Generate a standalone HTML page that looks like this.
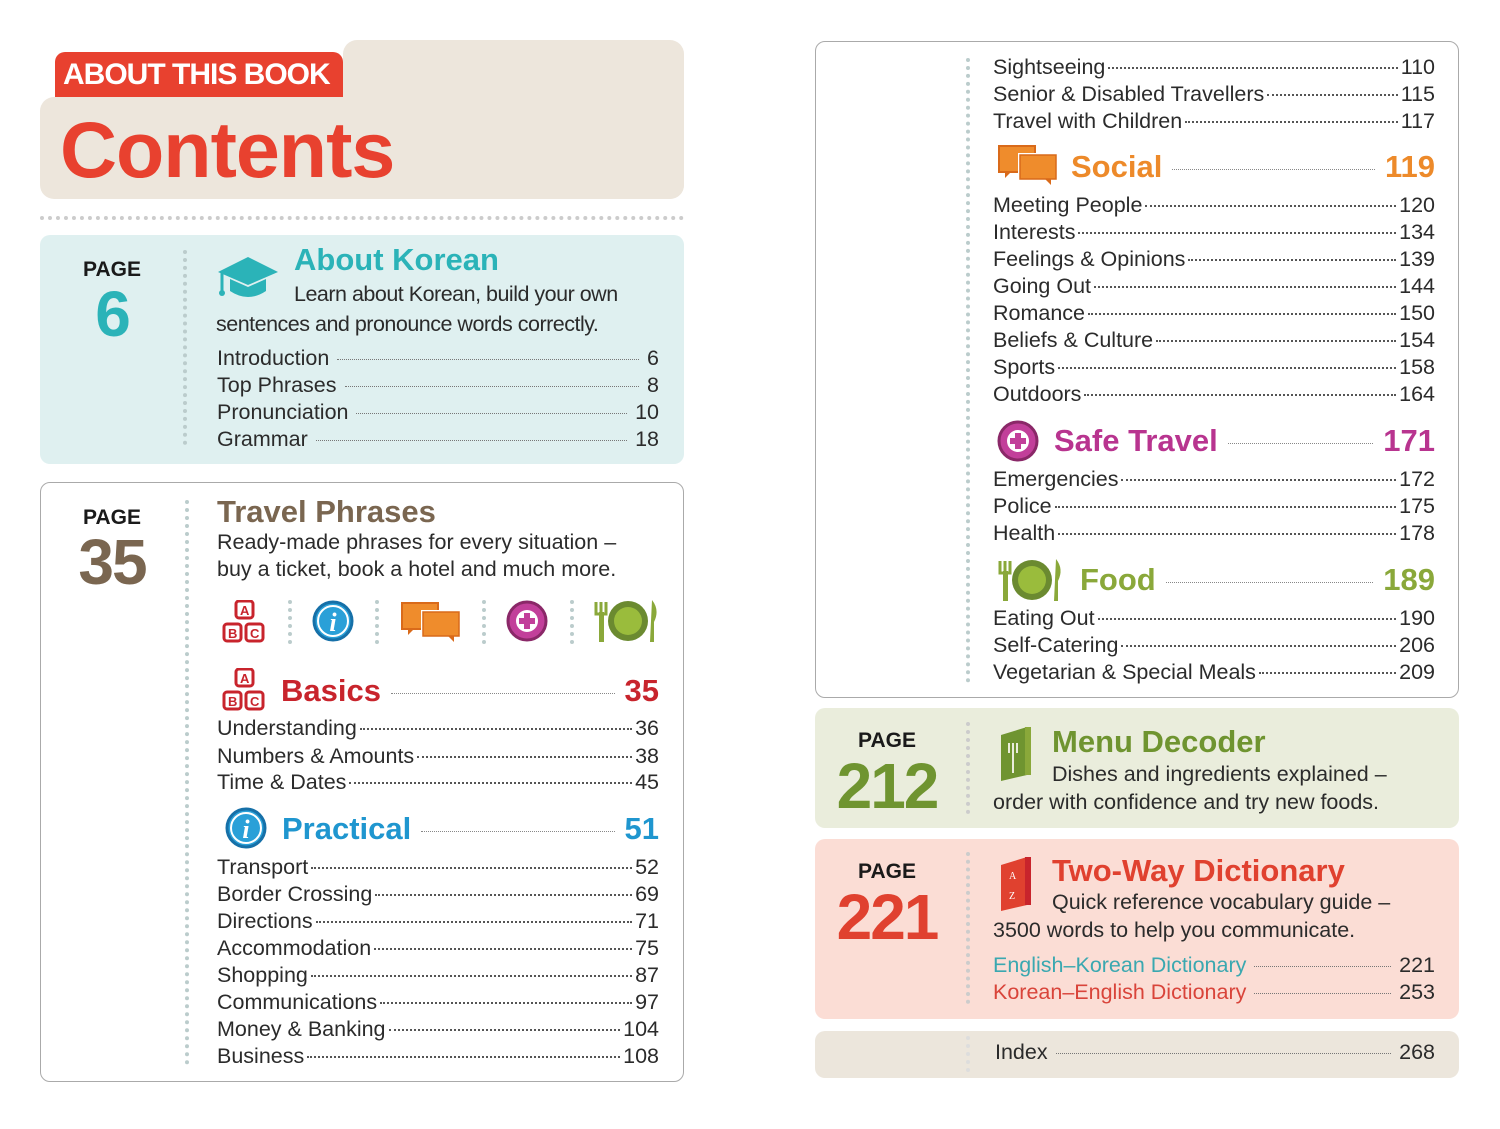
<!DOCTYPE html>
<html><head><meta charset="utf-8"><style>
*{margin:0;padding:0;box-sizing:border-box}
body{width:1500px;height:1129px;background:#fff;position:relative;overflow:hidden;font-family:"Liberation Sans",sans-serif;color:#2a2a2a}
.a{position:absolute}
.r{position:absolute;display:flex;align-items:baseline;font-size:21.5px;line-height:26px;height:26px;white-space:nowrap;color:#2b2b2b}
.r i{flex:1;border-bottom:2px dotted #555;margin:0 3px;transform:translateY(-5px)}
.r i.t{border-bottom:1px dotted #777;margin:0 8px}
.h{position:absolute;display:flex;align-items:baseline;font-weight:bold;font-size:31px;line-height:36px;white-space:nowrap}
.h i{flex:1;border-bottom:1px dotted #888;margin:0 10px;transform:translateY(-7px)}
.pg{position:absolute;font-weight:bold;font-size:21px;color:#1a1a1a;text-align:center;width:80px}
.num{position:absolute;font-weight:bold;text-align:center;font-size:64px;line-height:64px;letter-spacing:-2px}
.vd{position:absolute;width:0;border-left:4px dotted #bcc;}
.desc{position:absolute;font-size:21.5px;line-height:28px;color:#2b2b2b;white-space:nowrap}
</style></head><body>

<!-- header -->
<div class="a" style="left:343px;top:40px;width:341px;height:159px;background:#ede6dc;border-radius:14px"></div>
<div class="a" style="left:40px;top:97px;width:644px;height:102px;background:#ede6dc;border-radius:14px"></div>
<div class="a" style="left:55px;top:52px;width:288px;height:45px;background:#e8412f;border-radius:10px 10px 0 0;color:#fff;font-weight:bold;font-size:30px;line-height:46px;padding-left:8px;letter-spacing:-1px">ABOUT THIS BOOK</div>
<div class="a" style="left:60px;top:104px;color:#e8412f;font-weight:bold;font-size:79px;line-height:92px;letter-spacing:-1px">Contents</div>
<div class="a" style="left:40px;top:216px;width:644px;border-top:4px dotted #ccc"></div>

<!-- About Korean -->
<div class="a" style="left:40px;top:235px;width:644px;height:229px;background:#dff0f0;border-radius:10px"></div>
<div class="pg" style="left:72px;top:258px">PAGE</div>
<div class="num" style="left:72px;top:282px;width:80px;color:#2bb3b8">6</div>
<div class="vd" style="left:183px;top:250px;height:195px"></div>
<svg class="a" style="left:216px;top:255px" width="64" height="48" viewBox="0 0 64 48"><polygon points="32,2 62,17 32,30 2,17" fill="#2bb3b8"/><path d="M14 24 v12 q18 12 36 0 v-12 l-18 8z" fill="#2bb3b8"/><line x1="6" y1="18" x2="6" y2="36" stroke="#2bb3b8" stroke-width="3"/><circle cx="6" cy="38" r="3" fill="#2bb3b8"/></svg>
<div class="a" style="left:294px;top:240px;color:#2bb3b8;font-weight:bold;font-size:31px;line-height:40px">About Korean</div>
<div class="desc" style="left:294px;top:280px;letter-spacing:-0.5px">Learn about Korean, build your own</div>
<div class="desc" style="left:216px;top:310px;letter-spacing:-0.5px">sentences and pronounce words correctly.</div>
<div class="r" style="left:217px;top:345px;width:442px"><span>Introduction</span><i class="t"></i><span>6</span></div>
<div class="r" style="left:217px;top:372px;width:442px"><span>Top Phrases</span><i class="t"></i><span>8</span></div>
<div class="r" style="left:217px;top:399px;width:442px"><span>Pronunciation</span><i class="t"></i><span>10</span></div>
<div class="r" style="left:217px;top:426px;width:442px"><span>Grammar</span><i class="t"></i><span>18</span></div>

<!-- Travel Phrases -->
<div class="a" style="left:40px;top:482px;width:644px;height:600px;border:1.5px solid #aaa;border-radius:10px"></div>
<div class="pg" style="left:72px;top:506px">PAGE</div>
<div class="num" style="left:62px;top:530px;width:100px;color:#7a6650">35</div>
<div class="vd" style="left:185px;top:500px;height:565px"></div>
<div class="a" style="left:217px;top:493px;color:#7a6650;font-weight:bold;font-size:31px;line-height:38px">Travel Phrases</div>
<div class="desc" style="left:217px;top:528px">Ready-made phrases for every situation –</div>
<div class="desc" style="left:217px;top:555px">buy a ticket, book a hotel and much more.</div>

<!-- icon row -->
<svg class="a" style="left:222px;top:600px" width="46" height="44" viewBox="0 0 46 44" font-family="Liberation Sans" font-weight="bold" font-size="13" fill="#c8242c"><rect x="14" y="1" width="17" height="17" rx="3" fill="none" stroke="#c8242c" stroke-width="3"/><rect x="2" y="24" width="17" height="17" rx="3" fill="none" stroke="#c8242c" stroke-width="3"/><rect x="24" y="24" width="17" height="17" rx="3" fill="none" stroke="#c8242c" stroke-width="3"/><text x="18" y="15">A</text><text x="6" y="38">B</text><text x="28" y="38">C</text></svg>
<div class="vd" style="left:288px;top:600px;height:44px"></div>
<svg class="a" style="left:312px;top:600px" width="42" height="42"><circle cx="21" cy="21" r="19" fill="#2aa0d8" stroke="#1670a8" stroke-width="3"/><circle cx="21" cy="21" r="15" fill="none" stroke="#fff" stroke-width="2"/><text x="21" y="31" text-anchor="middle" font-family="Liberation Serif" font-style="italic" font-weight="bold" font-size="26" fill="#fff">i</text></svg>
<div class="vd" style="left:375px;top:600px;height:44px"></div>
<svg class="a" style="left:400px;top:601px" width="62" height="42"><rect x="2" y="2" width="36" height="26" fill="#ef8c2c" stroke="#d96a1a" stroke-width="2"/><path d="M8 28 l0 6 l6 -6z" fill="#d96a1a"/><rect x="22" y="10" width="38" height="26" fill="#ef8c2c" stroke="#fff" stroke-width="2"/><rect x="23" y="11" width="36" height="24" fill="#ef8c2c" stroke="#d96a1a" stroke-width="1.5"/><path d="M48 35 l6 6 l0 -6z" fill="#d96a1a"/></svg>
<div class="vd" style="left:482px;top:600px;height:44px"></div>
<svg class="a" style="left:506px;top:600px" width="42" height="42"><circle cx="21" cy="21" r="19" fill="#c23f9a" stroke="#8a2868" stroke-width="3"/><circle cx="21" cy="21" r="11" fill="#fff"/><rect x="18" y="13" width="6" height="16" fill="#c23f9a"/><rect x="13" y="18" width="16" height="6" fill="#c23f9a"/></svg>
<div class="vd" style="left:570px;top:600px;height:44px"></div>
<svg class="a" style="left:592px;top:598px" width="70" height="46"><path d="M4 4v12h10v-12M9 4v12" stroke="#8aa83a" stroke-width="3" fill="none"/><rect x="7" y="14" width="5" height="30" fill="#8aa83a"/><circle cx="36" cy="23" r="20" fill="#6b8a30"/><circle cx="36" cy="23" r="14" fill="#9abc3c"/><path d="M60 2 q8 10 2 22 v20 h-4z" fill="#8aa83a"/></svg>

<!-- Basics -->
<svg class="a" style="left:222px;top:668px" width="46" height="44" viewBox="0 0 46 44" font-family="Liberation Sans" font-weight="bold" font-size="13" fill="#c8242c"><rect x="14" y="1" width="17" height="17" rx="3" fill="none" stroke="#c8242c" stroke-width="3"/><rect x="2" y="24" width="17" height="17" rx="3" fill="none" stroke="#c8242c" stroke-width="3"/><rect x="24" y="24" width="17" height="17" rx="3" fill="none" stroke="#c8242c" stroke-width="3"/><text x="18" y="15">A</text><text x="6" y="38">B</text><text x="28" y="38">C</text></svg>
<div class="h" style="left:281px;top:673px;width:378px;color:#c8242c"><span>Basics</span><i></i><span>35</span></div>
<div class="r" style="left:217px;top:715px;width:442px"><span>Understanding</span><i></i><span>36</span></div>
<div class="r" style="left:217px;top:743px;width:442px"><span>Numbers &amp; Amounts</span><i></i><span>38</span></div>
<div class="r" style="left:217px;top:769px;width:442px"><span>Time &amp; Dates</span><i></i><span>45</span></div>

<!-- Practical -->
<svg class="a" style="left:225px;top:807px" width="42" height="42"><circle cx="21" cy="21" r="19" fill="#2aa0d8" stroke="#1670a8" stroke-width="3"/><circle cx="21" cy="21" r="15" fill="none" stroke="#fff" stroke-width="2"/><text x="21" y="31" text-anchor="middle" font-family="Liberation Serif" font-style="italic" font-weight="bold" font-size="26" fill="#fff">i</text></svg>
<div class="h" style="left:282px;top:811px;width:377px;color:#1f96cf"><span>Practical</span><i></i><span>51</span></div>
<div class="r" style="left:217px;top:854px;width:442px"><span>Transport</span><i></i><span>52</span></div>
<div class="r" style="left:217px;top:881px;width:442px"><span>Border Crossing</span><i></i><span>69</span></div>
<div class="r" style="left:217px;top:908px;width:442px"><span>Directions</span><i></i><span>71</span></div>
<div class="r" style="left:217px;top:935px;width:442px"><span>Accommodation</span><i></i><span>75</span></div>
<div class="r" style="left:217px;top:962px;width:442px"><span>Shopping</span><i></i><span>87</span></div>
<div class="r" style="left:217px;top:989px;width:442px"><span>Communications</span><i></i><span>97</span></div>
<div class="r" style="left:217px;top:1016px;width:442px"><span>Money &amp; Banking</span><i></i><span>104</span></div>
<div class="r" style="left:217px;top:1043px;width:442px"><span>Business</span><i></i><span>108</span></div>

<!-- Right panel -->
<div class="a" style="left:815px;top:41px;width:644px;height:657px;border:1.5px solid #aaa;border-radius:10px"></div>
<div class="vd" style="left:966px;top:58px;height:625px"></div>
<div class="r" style="left:993px;top:54px;width:442px"><span>Sightseeing</span><i></i><span>110</span></div>
<div class="r" style="left:993px;top:81px;width:442px"><span>Senior &amp; Disabled Travellers</span><i></i><span>115</span></div>
<div class="r" style="left:993px;top:108px;width:442px"><span>Travel with Children</span><i></i><span>117</span></div>
<svg class="a" style="left:997px;top:144px" width="62" height="42"><rect x="2" y="2" width="36" height="26" fill="#ef8c2c" stroke="#d96a1a" stroke-width="2"/><path d="M8 28 l0 6 l6 -6z" fill="#d96a1a"/><rect x="22" y="10" width="38" height="26" fill="#ef8c2c" stroke="#fff" stroke-width="2"/><rect x="23" y="11" width="36" height="24" fill="#ef8c2c" stroke="#d96a1a" stroke-width="1.5"/><path d="M48 35 l6 6 l0 -6z" fill="#d96a1a"/></svg>
<div class="h" style="left:1071px;top:149px;width:364px;color:#ed8a2a"><span>Social</span><i></i><span>119</span></div>
<div class="r" style="left:993px;top:192px;width:442px"><span>Meeting People</span><i></i><span>120</span></div>
<div class="r" style="left:993px;top:219px;width:442px"><span>Interests</span><i></i><span>134</span></div>
<div class="r" style="left:993px;top:246px;width:442px"><span>Feelings &amp; Opinions</span><i></i><span>139</span></div>
<div class="r" style="left:993px;top:273px;width:442px"><span>Going Out</span><i></i><span>144</span></div>
<div class="r" style="left:993px;top:300px;width:442px"><span>Romance</span><i></i><span>150</span></div>
<div class="r" style="left:993px;top:327px;width:442px"><span>Beliefs &amp; Culture</span><i></i><span>154</span></div>
<div class="r" style="left:993px;top:354px;width:442px"><span>Sports</span><i></i><span>158</span></div>
<div class="r" style="left:993px;top:381px;width:442px"><span>Outdoors</span><i></i><span>164</span></div>
<svg class="a" style="left:997px;top:420px" width="42" height="42"><circle cx="21" cy="21" r="19" fill="#c23f9a" stroke="#8a2868" stroke-width="3"/><circle cx="21" cy="21" r="11" fill="#fff"/><rect x="18" y="13" width="6" height="16" fill="#c23f9a"/><rect x="13" y="18" width="16" height="6" fill="#c23f9a"/></svg>
<div class="h" style="left:1054px;top:423px;width:381px;color:#b8348f"><span>Safe Travel</span><i></i><span>171</span></div>
<div class="r" style="left:993px;top:466px;width:442px"><span>Emergencies</span><i></i><span>172</span></div>
<div class="r" style="left:993px;top:493px;width:442px"><span>Police</span><i></i><span>175</span></div>
<div class="r" style="left:993px;top:520px;width:442px"><span>Health</span><i></i><span>178</span></div>
<svg class="a" style="left:996px;top:557px" width="70" height="46"><path d="M4 4v12h10v-12M9 4v12" stroke="#8aa83a" stroke-width="3" fill="none"/><rect x="7" y="14" width="5" height="30" fill="#8aa83a"/><circle cx="36" cy="23" r="20" fill="#6b8a30"/><circle cx="36" cy="23" r="14" fill="#9abc3c"/><path d="M60 2 q8 10 2 22 v20 h-4z" fill="#8aa83a"/></svg>
<div class="h" style="left:1080px;top:562px;width:355px;color:#8aa83a"><span>Food</span><i></i><span>189</span></div>
<div class="r" style="left:993px;top:605px;width:442px"><span>Eating Out</span><i></i><span>190</span></div>
<div class="r" style="left:993px;top:632px;width:442px"><span>Self-Catering</span><i></i><span>206</span></div>
<div class="r" style="left:993px;top:659px;width:442px"><span>Vegetarian &amp; Special Meals</span><i></i><span>209</span></div>

<!-- Menu Decoder -->
<div class="a" style="left:815px;top:708px;width:644px;height:120px;background:#eaeddc;border-radius:10px"></div>
<div class="pg" style="left:847px;top:729px">PAGE</div>
<div class="num" style="left:832px;top:754px;width:110px;color:#6f9430">212</div>
<div class="vd" style="left:966px;top:722px;height:92px;border-color:#ccc"></div>
<svg class="a" style="left:997px;top:725px" width="40" height="58"><polygon points="4,10 30,2 30,50 4,56" fill="#6f9430"/><rect x="28" y="2" width="6" height="48" fill="#8aa83a"/><path d="M12 18v10M16 18v10M20 18v10M16 28v20" stroke="#eaeddc" stroke-width="2"/></svg>
<div class="a" style="left:1052px;top:722px;color:#6f9430;font-weight:bold;font-size:31px;line-height:40px">Menu Decoder</div>
<div class="desc" style="left:1052px;top:760px">Dishes and ingredients explained –</div>
<div class="desc" style="left:993px;top:788px">order with confidence and try new foods.</div>

<!-- Dictionary -->
<div class="a" style="left:815px;top:839px;width:644px;height:180px;background:#fbddd5;border-radius:10px"></div>
<div class="pg" style="left:847px;top:860px">PAGE</div>
<div class="num" style="left:832px;top:885px;width:110px;color:#e0412f">221</div>
<div class="vd" style="left:966px;top:852px;height:152px;border-color:#ccc"></div>
<svg class="a" style="left:997px;top:855px" width="40" height="58"><polygon points="4,10 30,2 30,50 4,56" fill="#e0412f"/><rect x="28" y="2" width="6" height="48" fill="#c8242c"/><text x="12" y="24" font-size="10" fill="#fff" font-family="Liberation Serif">A</text><text x="12" y="44" font-size="10" fill="#fff" font-family="Liberation Serif">Z</text></svg>
<div class="a" style="left:1052px;top:851px;color:#e0412f;font-weight:bold;font-size:31px;line-height:40px">Two-Way Dictionary</div>
<div class="desc" style="left:1052px;top:888px">Quick reference vocabulary guide –</div>
<div class="desc" style="left:993px;top:916px">3500 words to help you communicate.</div>
<div class="r" style="left:993px;top:952px;width:442px"><span style="color:#3aa8b0">English–Korean Dictionary</span><i class="t"></i><span>221</span></div>
<div class="r" style="left:993px;top:979px;width:442px"><span style="color:#d9443a">Korean–English Dictionary</span><i class="t"></i><span>253</span></div>

<!-- Index -->
<div class="a" style="left:815px;top:1031px;width:644px;height:47px;background:#ece6dc;border-radius:10px"></div>
<div class="vd" style="left:966px;top:1036px;height:36px;border-color:#ddd"></div>
<div class="r" style="left:995px;top:1039px;width:440px"><span>Index</span><i class="t"></i><span>268</span></div>

</body></html>
